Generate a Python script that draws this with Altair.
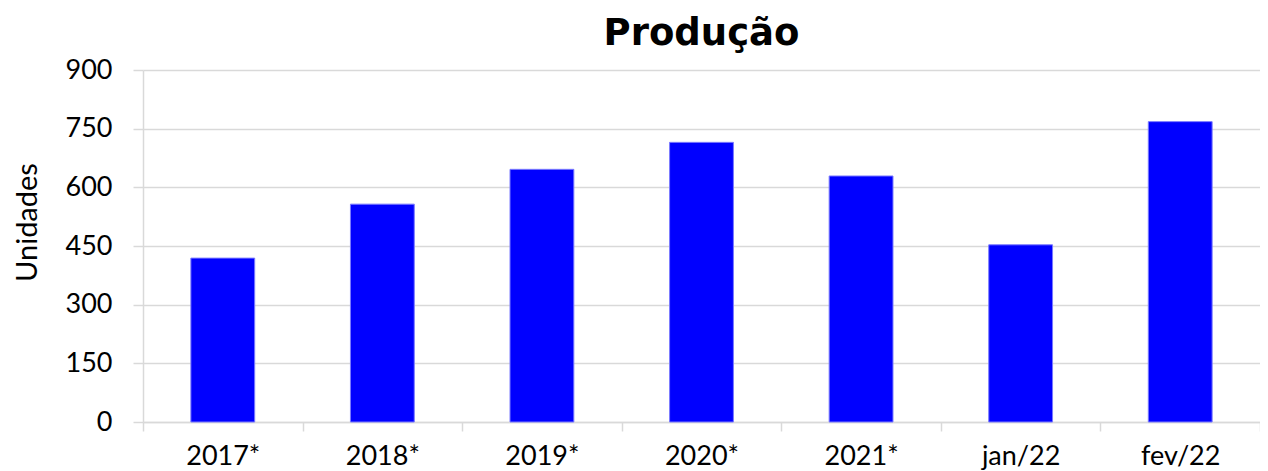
import altair as alt
import pandas as pd

categorias = ["2017*", "2018*", "2019*", "2020*", "2021*", "jan/22", "fev/22"]
producao = [419, 557, 646, 715, 629, 453, 768]
y_ticks = [0, 150, 300, 450, 600, 750, 900]

df = pd.DataFrame({"categoria": categorias, "producao": producao})

GRID = "#d9d9d9"

chart = alt.Chart(df).mark_bar(
    color="#0000FF", stroke="#7a7aff", strokeWidth=1,
    width=alt.RelativeBandSize(0.4)
).encode(
    x=alt.X("categoria:N", sort=categorias, title=None,
            scale=alt.Scale(paddingInner=0, paddingOuter=0),
            axis=alt.Axis(tickBand="extent", labelAngle=0, labelFont="Lato",
                          labelFontSize=27, labelColor="#000000",
                          domainColor=GRID, domainWidth=1.5,
                          tickColor=GRID, tickWidth=1.5, tickSize=9,
                          labelPadding=12, grid=False)),
    y=alt.Y("producao:Q", title="Unidades",
            scale=alt.Scale(domain=[0, 900], nice=False),
            axis=alt.Axis(values=y_ticks, labelFont="Lato", labelFontSize=27,
                          labelColor="#000000", labelPadding=21,
                          tickSize=10, tickColor=GRID, tickWidth=1.5,
                          domainColor=GRID, domainWidth=1.5,
                          gridColor=GRID, gridWidth=1.5,
                          titleFont="Lato", titleFontSize=29,
                          titleFontWeight="normal", titleColor="#000000",
                          titleX=-116, titleY=152, titleAngle=270,
                          titleAlign="center", titleBaseline="middle"))
).properties(
    width=1117, height=352,
    title=alt.TitleParams("Produção", font="DejaVu Sans", fontSize=37,
                          fontWeight="bold", color="#000000",
                          anchor="middle", baseline="alphabetic", offset=6,
                          dy=32),
    padding={"left": 135, "top": 62, "right": 0, "bottom": 49},
    autosize=alt.AutoSizeParams(type="none"),
    background="white"
).configure_view(stroke=None)

chart.save("out.html", embed_options={"renderer": "svg", "actions": False})
